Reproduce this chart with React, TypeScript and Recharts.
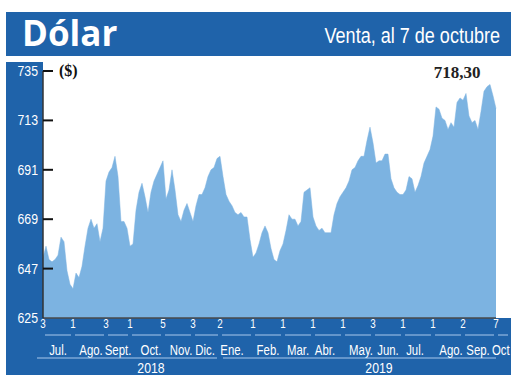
import { AreaChart, Area, XAxis, YAxis } from "recharts";

// Dólar observado, venta (one sample every ~2 trading days, Jul 2018 – Oct 7 2019)
const VALUES = [
  652, 657, 651, 650, 651, 653, 661, 659, 646, 640,
  638, 645, 643, 648, 657, 665, 669, 665, 667, 659,
  665, 686, 690, 692, 697, 688, 668, 668, 665, 657,
  658, 673, 681, 685, 679, 672, 681, 686, 689, 692,
  695, 678, 682, 691, 682, 671, 668, 673, 676, 672,
  668, 675, 680, 680, 683, 688, 691, 692, 696, 697,
  688, 680, 677, 675, 672, 671, 672, 670, 670, 660,
  652, 654, 658, 663, 666, 663, 656, 651, 650, 655,
  658, 664, 671, 669, 669, 666, 668, 681, 682, 683,
  670, 666, 664, 665, 663, 663, 663, 671, 676, 679,
  681, 683, 686, 691, 692, 695, 697, 697, 704, 710,
  703, 694, 695, 695, 698, 698, 687, 683, 681, 680,
  680, 682, 688, 687, 681, 684, 688, 694, 697, 700,
  706, 719, 718, 714, 713, 709, 712, 710, 721, 723,
  722, 725, 715, 712, 713, 709, 717, 726, 728, 729,
  724, 718.3,
];

const Y_TICKS = [625, 647, 669, 691, 713, 735];

const DAY_TICK_AT = [0, 10, 21, 29, 40, 50, 59, 70, 80, 90, 100, 110, 120, 130, 140, 151];
const DAY_TICK_LABELS = ["3", "1", "3", "1", "5", "3", "2", "1", "1", "1", "1", "3", "1", "1", "2", "7"];

const MONTH_AT = [5, 16, 25, 36, 46, 54, 63, 75, 85, 94, 106, 115, 124, 136, 145, 151];
const MONTH_LABELS = [
  "Jul.", "Ago.", "Sept.", "Oct.", "Nov.", "Dic.", "Ene.", "Feb.",
  "Mar.", "Abr.", "May.", "Jun.", "Jul.", "Ago.", "Sep.", "Oct",
];

const YEAR_AT = [36, 112];
const YEAR_LABELS = ["2018", "2019"];
const YEAR_FROM = [0, 60];
const YEAR_TO = [58, 151];

const LAST_LABEL = "718,30";

const data = VALUES.map((v, i) => ({ i, v }));
const LAST = VALUES.length - 1;
const X_TICKS = Array.from(new Set([...DAY_TICK_AT, ...MONTH_AT, ...YEAR_AT])).sort((a, b) => a - b);

const BLUE = "#1f63aa";
const FILL = "#7cb3e1";
const LINE = "#a9c9ec";
const SANS = '"Liberation Sans", Arial, sans-serif';
const SERIF = '"Liberation Serif", "DejaVu Serif", serif';

const W = 520;
const H = 390;
const MARGIN = { top: 71, right: 24, bottom: 12, left: 6 };
const Y_AXIS_W = 37;
const STEP = (W - MARGIN.left - MARGIN.right - Y_AXIS_W) / LAST;

// condensed white label (no narrow font installed, so squeeze horizontally)
function NText({ x, y, size, anchor = "middle", sx = 0.82, children }: any) {
  return (
    <text
      transform={`translate(${x} ${y}) scale(${sx} 1)`}
      textAnchor={anchor}
      fill="#fff"
      fontSize={size}
      fontFamily={SANS}
    >
      {children}
    </text>
  );
}

function LeftTick({ y, payload }: any) {
  return (
    <g>
      <NText x={38} y={y + 5} size={15} anchor="end">
        {payload.value}
      </NText>
      {payload.value !== Y_TICKS[0] && (
        <line x1={43} x2={53} y1={y} y2={y} stroke="#111" strokeWidth={2} />
      )}
    </g>
  );
}

function BottomTick({ x, payload }: any) {
  const i = payload.value;
  const d = DAY_TICK_AT.indexOf(i);
  const m = MONTH_AT.indexOf(i);
  const k = YEAR_AT.indexOf(i);
  const nextX =
    d >= 0 && d < DAY_TICK_AT.length - 1 ? x + (DAY_TICK_AT[d + 1] - i) * STEP : x + 14;
  return (
    <g>
      {d >= 0 && (
        <>
          <NText x={x} y={328} size={12}>
            {DAY_TICK_LABELS[d]}
          </NText>
          <line x1={x + 2} x2={nextX - 2} y1={335} y2={335} stroke={LINE} strokeWidth={1} />
        </>
      )}
      {m >= 0 && (
        <NText
          x={i === LAST ? x - 4 : x}
          y={355}
          size={15}
          sx={0.76}
          anchor={i === LAST ? "start" : "middle"}
        >
          {MONTH_LABELS[m]}
        </NText>
      )}
      {k >= 0 && (
        <>
          <line
            x1={x + (YEAR_FROM[k] - i) * STEP - (k === 0 ? 6 : 0)}
            x2={x + (YEAR_TO[k] - i) * STEP}
            y1={358}
            y2={358}
            stroke={LINE}
            strokeWidth={1}
          />
          <NText x={x} y={373} size={15}>
            {YEAR_LABELS[k]}
          </NText>
        </>
      )}
    </g>
  );
}

export default function App() {
  return (
    <div style={{ position: "absolute", left: 0, top: 0, width: W, height: H, background: "#fff" }}>
      <svg width={W} height={H} style={{ position: "absolute", left: 0, top: 0 }}>
        <rect x={6} y={12} width={505} height={44} fill={BLUE} />
        <text x={22} y={46} fill="#fff" fontSize={35} fontWeight={700} fontFamily='"Open Sans", sans-serif'>
          Dólar
        </text>
        <NText x={500} y={43} size={22} anchor="end">
          Venta, al 7 de octubre
        </NText>
        <rect x={6} y={62} width={37} height={313} fill={BLUE} />
        <rect x={6} y={318} width={505} height={57} fill={BLUE} />
        <text x={59} y={76} fill="#111" fontSize={16} fontWeight={700} fontFamily={SERIF}>
          ($)
        </text>
        <text x={457} y={78} textAnchor="middle" fill="#222" fontSize={17} fontWeight={700} fontFamily={SERIF}>
          {LAST_LABEL}
        </text>
      </svg>
      <div style={{ position: "absolute", left: 0, top: 0 }}>
        <AreaChart width={W} height={H} data={data} margin={MARGIN}>
          <XAxis
            dataKey="i"
            type="number"
            domain={[0, LAST]}
            ticks={X_TICKS}
            interval={0}
            height={60}
            tickLine={false}
            axisLine={{ stroke: "#4a4a4a", strokeWidth: 1.5 }}
            tick={(p: any) => <BottomTick {...p} />}
          />
          <YAxis
            type="number"
            domain={[625, 735]}
            ticks={Y_TICKS}
            interval={0}
            width={Y_AXIS_W}
            tickLine={false}
            axisLine={{ stroke: "#333", strokeWidth: 1.5 }}
            tick={(p: any) => <LeftTick {...p} />}
          />
          <Area
            type="linear"
            dataKey="v"
            stroke={FILL}
            strokeWidth={0.5}
            fill={FILL}
            fillOpacity={1}
            dot={false}
            activeDot={false}
            isAnimationActive={false}
          />
        </AreaChart>
      </div>
    </div>
  );
}
